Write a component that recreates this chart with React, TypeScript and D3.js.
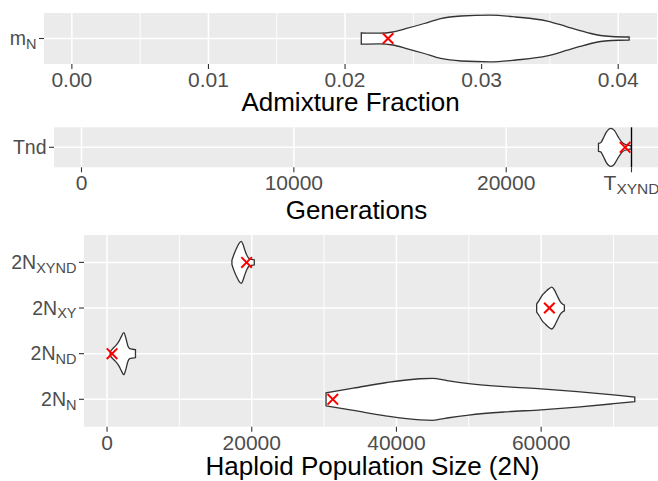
import React, { useEffect, useRef } from "react";
import * as d3 from "d3";

// admixture fraction m_N: violin profile [value, relative density] + point estimate
const admixViolin: [number, number][] = [
	[0.02119, 0.245], [0.0225, 0.227], [0.0235, 0.279], [0.0245, 0.43], [0.0258, 0.644],
	[0.027, 0.858], [0.0285, 0.966], [0.0306, 1], [0.0325, 0.923], [0.0348, 0.751],
	[0.0362, 0.515], [0.0372, 0.343], [0.038, 0.215], [0.0387, 0.129], [0.0395, 0.086],
	[0.0408, 0.064],
];
const admixEstimate = 0.02315;
const admixTicks = [0, 0.01, 0.02, 0.03, 0.04];
const admixMinor = [0.005, 0.015, 0.025, 0.035];

// split time Tnd (generations)
const tndViolin: [number, number][] = [
	[24345, 0.21], [24450, 0.24], [24570, 0.47], [24710, 0.79], [24930, 1],
	[25090, 0.89], [25280, 0.53], [25470, 0.24], [25660, 0.13], [25890, 0.08],
];
const tndEstimate = 25600;
const tXYND = 25900;
const generationTicks = [0, 10000, 20000];

// haploid population sizes
const popSubs = ["XYND", "XY", "ND", "N"];
const popEstimates = [19290, 61140, 690, 31200];
const popViolins: [number, number][][] = [
	[[17260, 0.1], [17535, 0.38], [17950, 0.71], [18300, 0.93], [18550, 1], [18780, 0.86],
	 [19060, 0.57], [19340, 0.33], [19610, 0.19], [20030, 0.14], [20350, 0.12]],
	[[59380, 0.2], [59750, 0.38], [60170, 0.62], [60580, 0.76], [61000, 0.9], [61480, 1],
	 [61830, 0.86], [62240, 0.57], [62660, 0.29], [62940, 0.19], [63210, 0.14]],
	[[440, 0.1], [790, 0.24], [1200, 0.38], [1620, 0.57], [1970, 0.81], [2310, 1],
	 [2590, 0.76], [2870, 0.38], [3140, 0.24], [3560, 0.21], [3930, 0.19]],
	[[30270, 0.31], [34040, 0.53], [38670, 0.8], [43280, 0.98], [45000, 1], [47000, 0.89],
	 [50000, 0.75], [55000, 0.6], [60000, 0.5], [65000, 0.37], [70000, 0.21], [72940, 0.11]],
];
const popTicks = [0, 20000, 40000, 60000];
const popMinor = [10000, 30000, 50000, 70000];

const FONT = "'Liberation Sans', Arial, Helvetica, sans-serif";
const W = 658;
const H = 481;

const expand = (lo, hi) => {
	const pad = (hi - lo) * 0.05;
	return [lo - pad, hi + pad];
};

function drawPanel(svg, p) {
	const g = svg.append("g");
	const x = p.x;
	const [x0, x1] = x.range();
	const y = d3.scalePoint().domain(p.rows.map((r, i) => i)).range([p.top, p.bottom]).padding(0.6);
	const step = p.rows.length > 1 ? y.step() : (p.bottom - p.top) / 1.2;
	const cy = (i) => p.rows.length > 1 ? y(i) : (p.top + p.bottom) / 2;

	g.append("rect")
		.attr("x", x0).attr("y", p.top)
		.attr("width", x1 - x0).attr("height", p.bottom - p.top)
		.attr("fill", "#EBEBEB");

	g.selectAll("line.minor").data(p.minor).join("line")
		.attr("x1", d => x(d)).attr("x2", d => x(d))
		.attr("y1", p.top).attr("y2", p.bottom)
		.attr("stroke", "#fff").attr("stroke-width", 0.9);

	g.selectAll("line.major").data(p.ticks.map(t => t.v)).join("line")
		.attr("x1", d => x(d)).attr("x2", d => x(d))
		.attr("y1", p.top).attr("y2", p.bottom)
		.attr("stroke", "#fff").attr("stroke-width", 1.5);

	p.rows.forEach((r, i) => {
		g.append("line")
			.attr("x1", x0).attr("x2", x1)
			.attr("y1", cy(i)).attr("y2", cy(i))
			.attr("stroke", "#fff").attr("stroke-width", 1.5);
	});

	const w = d3.scaleLinear().domain([0, 1]).range([0, step * p.widthFrac]);

	p.rows.forEach((r, i) => {
		const c = cy(i);
		const area = d3.area()
			.x(d => x(d[0]))
			.y0(d => c - w(d[1]))
			.y1(d => c + w(d[1]))
			.curve(d3.curveMonotoneX);
		g.append("path")
			.attr("d", area(r.violin))
			.attr("fill", "#fff")
			.attr("stroke", "#333333")
			.attr("stroke-width", 1.3);
	});

	if (p.vline != null) {
		g.append("line")
			.attr("x1", x(p.vline)).attr("x2", x(p.vline))
			.attr("y1", p.top).attr("y2", p.bottom)
			.attr("stroke", "#000").attr("stroke-width", 1.4);
	}

	p.rows.forEach((r, i) => {
		const px = x(r.est), py = cy(i), s = 5.3;
		g.append("path")
			.attr("d", `M${px - s},${py - s}L${px + s},${py + s}M${px - s},${py + s}L${px + s},${py - s}`)
			.attr("stroke", "#FF0000").attr("stroke-width", 2).attr("fill", "none");
	});

	// y axis
	p.rows.forEach((r, i) => {
		const c = cy(i);
		g.append("line")
			.attr("x1", x0 - 5).attr("x2", x0)
			.attr("y1", c).attr("y2", c)
			.attr("stroke", "#333333").attr("stroke-width", 1.1);
		const t = g.append("text")
			.attr("x", x0 - 7.5).attr("y", c + 6.8)
			.attr("text-anchor", "end")
			.attr("font-family", FONT).attr("font-size", 19.5)
			.attr("fill", "#4D4D4D");
		t.append("tspan").text(r.main);
		if (r.sub) t.append("tspan").attr("font-size", 14.5).attr("dy", 3.5).text(r.sub);
	});

	// x axis
	p.ticks.forEach(tk => {
		g.append("line")
			.attr("x1", x(tk.v)).attr("x2", x(tk.v))
			.attr("y1", p.bottom).attr("y2", p.bottom + 5)
			.attr("stroke", "#333333").attr("stroke-width", 1.1);
		const t = g.append("text")
			.attr("x", x(tk.v)).attr("y", p.bottom + 23)
			.attr("text-anchor", "middle")
			.attr("font-family", FONT).attr("font-size", 21)
			.attr("fill", "#4D4D4D");
		t.append("tspan").text(tk.main);
		if (tk.sub) t.append("tspan").attr("font-size", 15.5).attr("dy", 3.5).text(tk.sub);
	});

	g.append("text")
		.attr("x", (x0 + x1) / 2).attr("y", p.titleY)
		.attr("text-anchor", "middle")
		.attr("font-family", FONT).attr("font-size", 26)
		.attr("fill", "#000")
		.text(p.title);
}

const App = () => {
	const chartRef = useRef(null);

	useEffect(() => {
		const svg = d3.select(chartRef.current);
		svg.selectAll("*").remove();

		const fmt2 = d3.format(".2f");

		drawPanel(svg, {
			top: 13, bottom: 64,
			x: d3.scaleLinear().domain(expand(0, d3.max(admixViolin, d => d[0]))).range([44, 657]),
			ticks: admixTicks.map(v => ({ v, main: fmt2(v) })),
			minor: admixMinor,
			rows: [{ main: "m", sub: "N", violin: admixViolin, est: admixEstimate }],
			widthFrac: 0.548,
			title: "Admixture Fraction", titleY: 111,
		});

		drawPanel(svg, {
			top: 127.3, bottom: 167.3,
			x: d3.scaleLinear().domain(expand(0, tXYND)).range([54, 659]),
			ticks: generationTicks.map(v => ({ v, main: String(v) })).concat([{ v: tXYND, main: "T", sub: "XYND" }]),
			minor: [],
			rows: [{ main: "Tnd", violin: tndViolin, est: tndEstimate }],
			widthFrac: 0.57,
			vline: tXYND,
			title: "Generations", titleY: 218.5,
		});

		const allPop = popViolins.flat().map(d => d[0]);
		drawPanel(svg, {
			top: 235, bottom: 426.7,
			x: d3.scaleLinear().domain(expand(d3.min(allPop), d3.max(allPop))).range([84, 661]),
			ticks: popTicks.map(v => ({ v, main: String(v) })),
			minor: popMinor,
			rows: popSubs.map((s, i) => ({ main: "2N", sub: s, violin: popViolins[i], est: popEstimates[i] })),
			widthFrac: 0.46,
			title: "Haploid Population Size (2N)", titleY: 474.5,
		});
	}, []);

	return (
		<svg
			ref={chartRef}
			width={W}
			height={H}
			style={{ position: "absolute", left: 0, top: 0, background: "#fff" }}
		/>
	);
};

export default App;
